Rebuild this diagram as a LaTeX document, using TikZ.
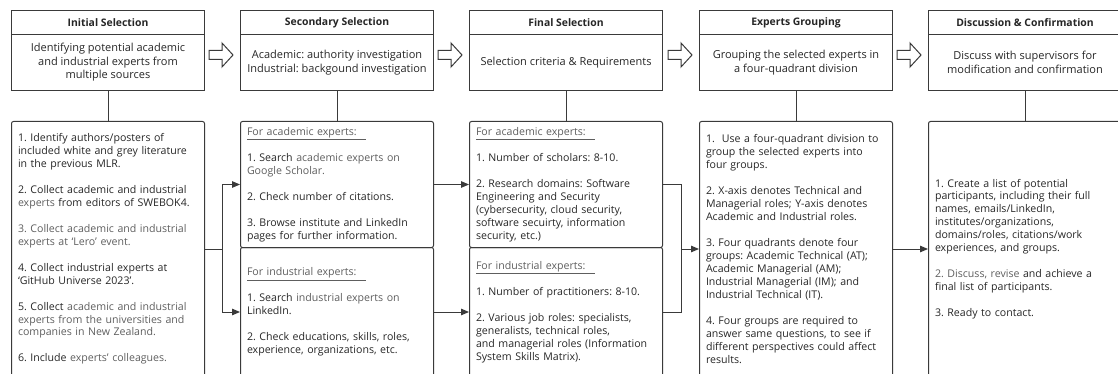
\documentclass[tikz,border=0pt]{standalone}
\usepackage{fontspec}
\setmainfont{Open Sans}
\usetikzlibrary{arrows.meta}
\definecolor{linec}{HTML}{3A3A3A}
\definecolor{txtc}{HTML}{262626}
\definecolor{txtgrey}{HTML}{5E5E5E}
\newcommand\gtx[1]{\textcolor{txtgrey}{#1}}
\newcommand\gap{\\[12.95pt]}
\newcommand\uhead[1]{\gtx{\underline{#1\hspace{9pt}}}}
\frenchspacing
\begin{document}
\begin{tikzpicture}[x=1pt,y=-1pt,
  every node/.style={text=txtc},
  titlebox/.style={draw=linec, line width=1pt, minimum width=193pt, minimum height=24pt,
    anchor=north west, inner sep=0pt, font=\bfseries\fontsize{10.4}{12}\selectfont},
  descbox/.style={draw=linec, line width=1pt, minimum width=193pt, minimum height=56pt,
    anchor=north west, inner sep=0pt, align=center, font=\fontsize{11}{13.5}\selectfont},
  listbox/.style={draw=linec, line width=1pt, rounded corners=2pt, minimum width=193pt,
    anchor=north west, inner sep=0pt, text width=180pt, align=left,
    font=\fontsize{10.6}{12.95}\selectfont},
  link/.style={draw=linec, line width=1pt},
  arr/.style={link, -{Triangle[length=8pt,width=6.5pt]}},
  hollow/.pic={\draw[linec, line width=1pt, line join=miter, fill=white]
    (0,-4.5) -- (13,-4.5) -- (13,-12) -- (24,0) -- (13,12) -- (13,4.5) -- (0,4.5) -- cycle;}
]
\useasboundingbox (0,0) rectangle (1118,374);
\clip (0,0) rectangle (1118,374);

% ---- stage headers ----
\node[titlebox] (t1) at (11,10) {Initial Selection};
\node[descbox] (d1) at (11,34) {Identifying potential academic\\and industrial experts from\\multiple sources};

\node[titlebox] (t2) at (240,10) {Secondary Selection};
\node[descbox] (d2) at (240,34) {Academic: authority investigation\\Industrial: backgound investigation};

\node[titlebox] (t3) at (469,10) {Final Selection};
\node[descbox] (d3) at (469,34) {Selection criteria \& Requirements};

\node[titlebox] (t4) at (699,10) {Experts Grouping};
\node[descbox] (d4) at (699,34) {Grouping the selected experts in\\a four-quadrant division};

\node[titlebox] (t5) at (928,10) {Discussion \& Confirmation};
\node[descbox] (d5) at (928,34) {Discuss with supervisors for\\modification and confirmation};

% ---- hollow arrows between stages ----
\pic at (209,55) {hollow};
\pic at (438,55) {hollow};
\pic at (668,55) {hollow};
\pic at (897,55) {hollow};

% ---- detail boxes ----
\node[listbox, minimum height=255pt] (c1) at (11,121) {%
1. Identify authors/posters of\\
included white and grey literature\\
in the previous MLR.\gap
2. Collect academic and industrial\\
\gtx{experts} from editors of SWEBOK4.\gap
\gtx{3. Collect academic and industrial}\\
\gtx{experts at ‘Lero’ event.}\gap
4. Collect industrial experts at\\
‘GitHub Universe 2023’.\gap
5. Collect \gtx{academic and industrial}\\
\gtx{experts from the universities and}\\
\gtx{companies in New Zealand.}\gap
6. Include \gtx{experts’ colleagues.}};

\node[listbox, minimum height=126pt] (c2a) at (240,121) {%
\uhead{For academic experts:}\gap
1. Search \gtx{academic experts on}\\
\gtx{Google Scholar.}\gap
2. Check number of citations.\gap
3. Browse institute and LinkedIn\\
pages for further information.};

\node[listbox, minimum height=129pt] (c2i) at (240,247) {%
\uhead{For industrial experts:}\gap
1. Search \gtx{industrial experts on}\\
LinkedIn.\gap
2. Check educations, skills, roles,\\
experience, organizations, etc.};

\node[listbox, minimum height=126pt] (c3a) at (469,121) {%
\uhead{For academic experts:}\gap
1. Number of scholars: 8-10.\gap
2. Research domains: Software\\
Engineering and Security\\
(cybersecurity, cloud security,\\
software secuirty, information\\
security, etc.)};

\node[listbox, minimum height=129pt] (c3i) at (469,247) {%
\uhead{For industrial experts:}\gap
1. Number of practitioners: 8-10.\gap
2. Various job roles: specialists,\\
generalists, technical roles,\\
and managerial roles (Information\\
System Skills Matrix).};

\node[listbox, minimum height=255pt] (c4) at (699,121) {%
1.\ \ Use a four-quadrant division to\\
group the selected experts into\\
four groups.\gap
2. X-axis denotes Technical and\\
Managerial roles; Y-axis denotes\\
Academic and Industrial roles.\gap
3. Four quadrants denote four\\
groups: Academic Technical (AT);\\
Academic Managerial (AM);\\
Industrial Managerial (IM); and\\
Industrial Technical (IT).\gap
4. Four groups are required to\\
answer same questions, to see if\\
different perspectives could affect\\
results.};

\node[listbox, minimum height=255pt] (c5) at (928,121) {%
1. Create a list of potential\\
participants, including their full\\
names, emails/LinkedIn,\\
institutes/organizations,\\
domains/roles, citations/work\\
experiences, and groups.\gap
\gtx{2. Discuss, revise} and achieve a\\
final list of participants.\gap
3. Ready to contact.};

% ---- header to detail connectors ----
\draw[link] (d1.south) -- (c1.north);
\draw[link] (d2.south) -- (c2a.north);
\draw[link] (d3.south) -- (c3a.north);
\draw[link] (d4.south) -- (c4.north);
\draw[link] (d5.south) -- (c5.north);

% ---- flow between detail boxes ----
\coordinate (j1) at ([xshift=17pt]c1.east);
\draw[link] (c1.east) -- (j1);
\draw[arr] (j1) |- (c2a.west);
\draw[arr] (j1) |- (c2i.west);

\draw[arr] (c2a.east) -- (c3a.west);
\draw[arr] (c2i.east) -- (c3i.west);

\coordinate (j3) at ([xshift=-18pt]c4.west);
\draw[link] (c3a.east) -| (j3);
\draw[link] (c3i.east) -| (j3);
\draw[arr] (j3) -- (c4.west);

\draw[arr] (c4.east) -- (c5.west);
\end{tikzpicture}
\end{document}
